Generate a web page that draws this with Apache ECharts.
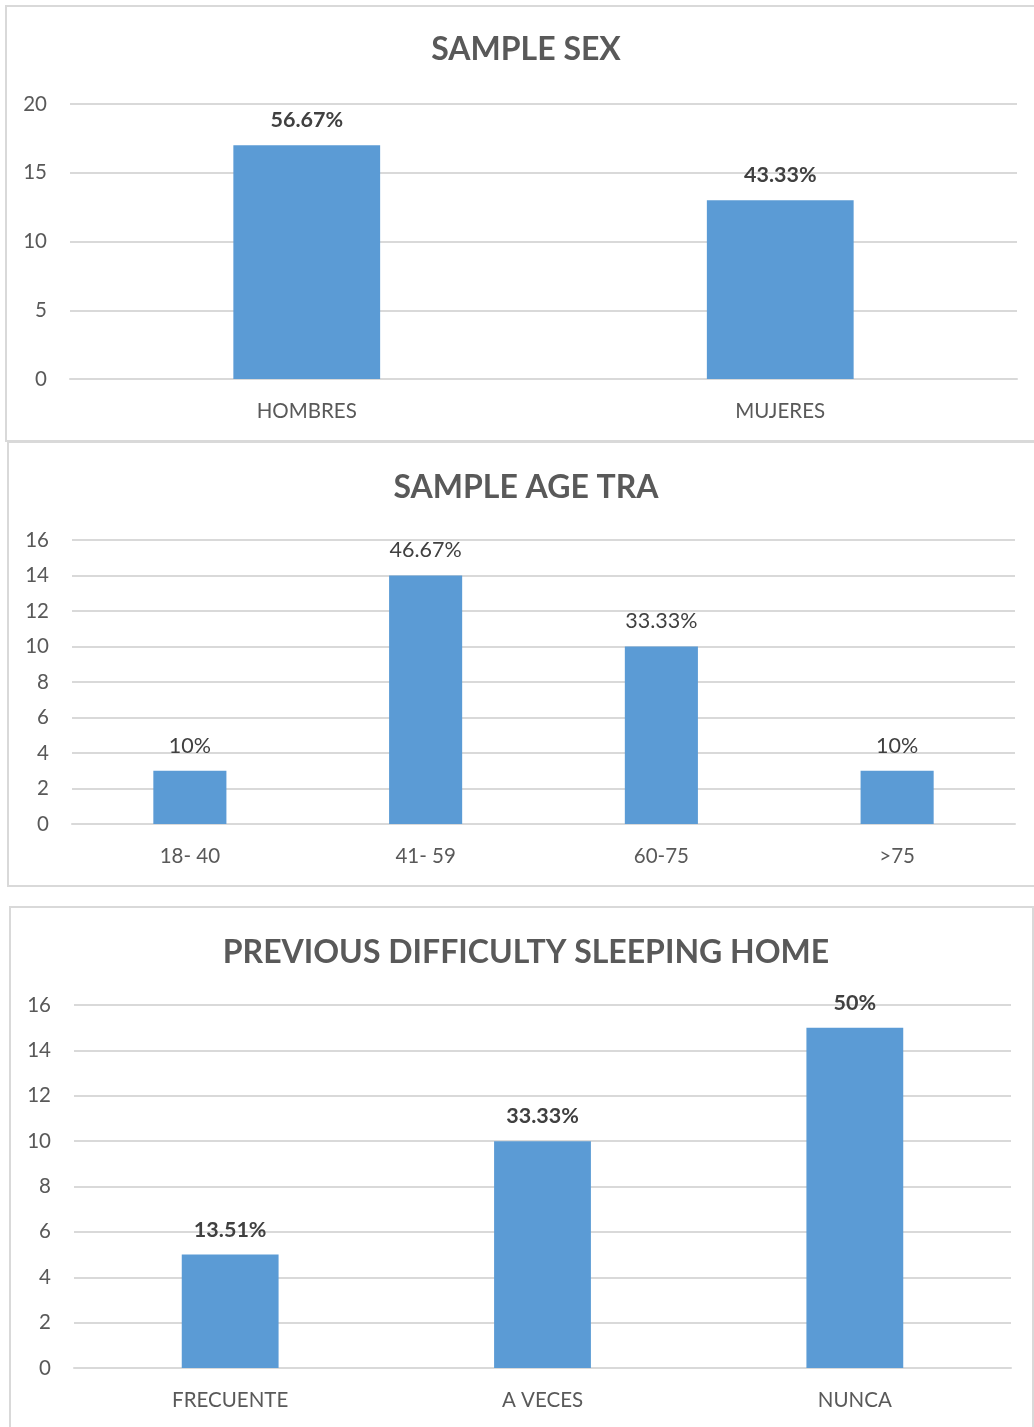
<!DOCTYPE html>
<html>
<head>
<meta charset="utf-8">
<script src="https://cdn.jsdelivr.net/npm/echarts@6/dist/echarts.min.js"></script>
<style>
  html, body { margin: 0; padding: 0; background: #fff; }
  #chart { width: 1034px; height: 1427px; }
</style>
</head>
<body>
<div id="chart"></div>
<script>
// Sample sex
const sexCategories = ['HOMBRES', 'MUJERES'];
const sexCounts = [17, 13];
const sexLabels = ['56.67%', '43.33%'];

// Sample age range
const ageCategories = ['18- 40', '41- 59', '60-75', '>75'];
const ageCounts = [3, 14, 10, 3];
const ageLabels = ['10%', '46.67%', '33.33%', '10%'];

// Previous difficulty sleeping at home
const sleepCategories = ['FRECUENTE', 'A VECES', 'NUNCA'];
const sleepCounts = [5, 10, 15];
const sleepLabels = ['13.51%', '33.33%', '50%'];

const FONT = 'Lato, "Open Sans", sans-serif';
const TEXT = '#595959';
const GRID_LINE = '#d9d9d9';
const BAR = '#5b9bd5';

const panels = [
  { title: 'SAMPLE SEX', cats: sexCategories, vals: sexCounts, labels: sexLabels, max: 20, interval: 5, bold: true,
    grid: { left: 70, right: 17, top: 104, height: 275 }, titleTop: 29, box: [6, 6, 1040, 435] },
  { title: 'SAMPLE AGE TRA', cats: ageCategories, vals: ageCounts, labels: ageLabels, max: 16, interval: 2, bold: false,
    grid: { left: 72, right: 19, top: 540, height: 284 }, titleTop: 467, box: [8, 442, 1040, 444] },
  { title: 'PREVIOUS DIFFICULTY SLEEPING HOME', cats: sleepCategories, vals: sleepCounts, labels: sleepLabels, max: 16, interval: 2, bold: true,
    grid: { left: 74, right: 23, top: 1005, height: 363 }, titleTop: 932, box: [10, 907, 1023, 540] }
];

const option = {
  backgroundColor: '#fff',
  animation: false,
  textStyle: { fontFamily: FONT },
  graphic: panels.map(p => ({
    type: 'rect', silent: true, z: -10,
    shape: { x: p.box[0], y: p.box[1], width: p.box[2], height: p.box[3] },
    style: { fill: '#fff', stroke: GRID_LINE, lineWidth: 2 }
  })),
  title: panels.map(p => ({
    text: p.title, left: 521, top: p.titleTop, textAlign: 'center',
    textStyle: { fontFamily: FONT, fontSize: 32, fontWeight: 'bold', color: TEXT }
  })),
  grid: panels.map(p => Object.assign({ containLabel: false }, p.grid)),
  xAxis: panels.map((p, i) => ({
    type: 'category', gridIndex: i, data: p.cats,
    axisLine: { show: true, lineStyle: { color: GRID_LINE, width: 2 } },
    axisTick: { show: false },
    axisLabel: { color: TEXT, fontFamily: FONT, fontSize: 20.5, margin: 22 }
  })),
  yAxis: panels.map((p, i) => ({
    type: 'value', gridIndex: i, min: 0, max: p.max, interval: p.interval,
    axisLine: { show: false }, axisTick: { show: false },
    splitLine: { lineStyle: { color: GRID_LINE, width: 2 } },
    axisLabel: { color: TEXT, fontFamily: FONT, fontSize: 20.5, margin: 23 }
  })),
  series: panels.map((p, i) => ({
    type: 'bar', xAxisIndex: i, yAxisIndex: i, data: p.vals,
    barWidth: '31%',
    itemStyle: { color: BAR },
    label: {
      show: true, position: 'top', distance: 14,
      formatter: params => p.labels[params.dataIndex],
      color: '#404040', fontFamily: FONT, fontSize: 21.5,
      fontWeight: p.bold ? 'bold' : 'normal'
    }
  }))
};

const chart = echarts.init(document.getElementById('chart'), null, { renderer: 'canvas' });
chart.setOption(option);
</script>
</body>
</html>
